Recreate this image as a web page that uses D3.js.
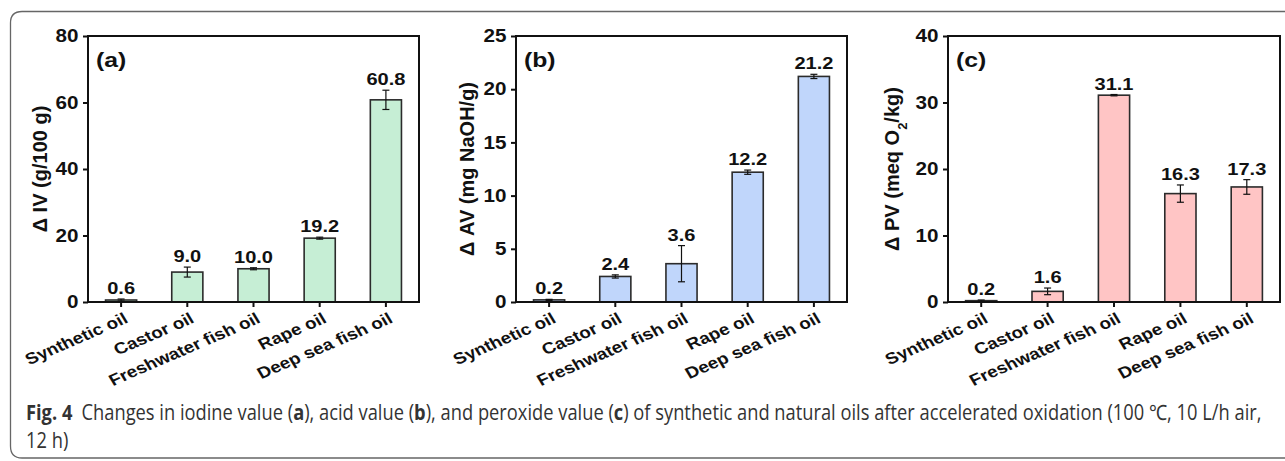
<!DOCTYPE html>
<html>
<head>
<meta charset="utf-8">
<script src="https://cdn.jsdelivr.net/npm/d3@7"></script>
<style>
  body { margin: 0; background: #fff; }
  svg text { font-family: "Liberation Sans", Arial, sans-serif; font-weight: bold; fill: #111; }
  svg .caption text { font-family: "Open Sans", "Noto Sans", sans-serif; font-weight: normal; fill: #333; }
</style>
</head>
<body>
<svg id="fig" width="1285" height="461"></svg>
<script>
// data
var oils = ['Synthetic oil', 'Castor oil', 'Freshwater fish oil', 'Rape oil', 'Deep sea fish oil'];

var ivValues = [0.6, 9.0, 10.0, 19.2, 60.8];
var ivErrors = [0.3, 1.5, 0.3, 0.3, 2.9];
var ivTicks = [0, 20, 40, 60, 80];

var avValues = [0.2, 2.4, 3.6, 12.2, 21.2];
var avErrors = [0.05, 0.15, 1.7, 0.2, 0.2];
var avTicks = [0, 5, 10, 15, 20, 25];

var pvValues = [0.2, 1.6, 31.1, 16.3, 17.3];
var pvErrors = [0.1, 0.5, 0.1, 1.3, 1.1];
var pvTicks = [0, 10, 20, 30, 40];

var svg = d3.select('#fig');
var sx = 1.18; // the original figure looks a bit stretched sideways

var panels = [
    { tag: '(a)', values: ivValues, errors: ivErrors, ticks: ivTicks, fill: '#c6eed5',
      left: 88, right: 419, titleX: 40, title: ['Δ IV (g/100 g)'] },
    { tag: '(b)', values: avValues, errors: avErrors, ticks: avTicks, fill: '#c0d6fb',
      left: 516, right: 847, titleX: 467, title: ['Δ AV (mg NaOH/g)'] },
    { tag: '(c)', values: pvValues, errors: pvErrors, ticks: pvTicks, fill: '#ffc5c5',
      left: 948, right: 1280, titleX: 892, title: ['Δ PV (meq O', '2', '/kg)'] }
];
var plotTop = 36, plotBottom = 302;

// outer rounded border of the figure box
svg.append('path')
    .attr('d', 'M1300,11.5 H22 Q10.5,11.5 10.5,23 V446 Q10.5,458 22,458 H1300')
    .attr('fill', 'none')
    .attr('stroke', '#666')
    .attr('stroke-width', 1.3);

panels.forEach(function (p) {
    var x = d3.scaleBand().domain(oils).range([p.left, p.right])
        .paddingInner(0.53).paddingOuter(0.265);
    var y = d3.scaleLinear().domain([0, d3.max(p.ticks)]).range([plotBottom, plotTop]);
    var g = svg.append('g');
    var rows = oils.map(function (o, i) { return { name: o, v: p.values[i], e: p.errors[i] }; });
    var cx = d => x(d.name) + x.bandwidth() / 2;

    g.selectAll('rect.bar')
        .data(rows)
        .join('rect')
        .attr('class', 'bar')
        .attr('x', d => x(d.name))
        .attr('y', d => y(d.v))
        .attr('width', x.bandwidth())
        .attr('height', d => plotBottom - y(d.v))
        .attr('fill', p.fill)
        .attr('stroke', '#2b2b2b')
        .attr('stroke-width', 1.6);

    // error bars
    var eb = g.selectAll('g.err').data(rows).join('g').attr('class', 'err')
        .attr('stroke', '#111').attr('stroke-width', 1.2);
    eb.append('line')
        .attr('x1', cx).attr('x2', cx)
        .attr('y1', d => y(d.v - d.e)).attr('y2', d => y(d.v + d.e));
    eb.append('line')
        .attr('x1', d => cx(d) - 3.5).attr('x2', d => cx(d) + 3.5)
        .attr('y1', d => y(d.v + d.e)).attr('y2', d => y(d.v + d.e));
    eb.append('line')
        .attr('x1', d => cx(d) - 3.5).attr('x2', d => cx(d) + 3.5)
        .attr('y1', d => y(d.v - d.e)).attr('y2', d => y(d.v - d.e));

    // value labels
    g.selectAll('text.val')
        .data(rows)
        .join('text')
        .attr('class', 'val')
        .attr('text-anchor', 'middle')
        .attr('font-size', 17)
        .attr('transform', d => 'translate(' + cx(d) + ',' + (y(d.v + d.e) - 5) + ') scale(' + sx + ',1)')
        .text(d => d.v.toFixed(1));

    // frame
    g.append('rect')
        .attr('x', p.left).attr('y', plotTop)
        .attr('width', p.right - p.left).attr('height', plotBottom - plotTop)
        .attr('fill', 'none').attr('stroke', '#111').attr('stroke-width', 2);

    var yAxis = g.append('g')
        .attr('transform', 'translate(' + p.left + ',0)')
        .call(d3.axisLeft(y).tickValues(p.ticks).tickSize(5).tickPadding(3));
    yAxis.select('.domain').remove();
    yAxis.selectAll('line').attr('stroke', '#111').attr('stroke-width', 2);
    yAxis.selectAll('text')
        .attr('font-size', 17.5)
        .attr('transform', 'scale(' + sx + ',1)');
    yAxis.attr('font-family', null).attr('font-size', null);

    var xAxis = g.append('g')
        .attr('transform', 'translate(0,' + plotBottom + ')')
        .call(d3.axisBottom(x).tickSize(5).tickFormat(''));
    xAxis.select('.domain').remove();
    xAxis.selectAll('line').attr('stroke', '#111').attr('stroke-width', 2);

    g.selectAll('text.cat')
        .data(oils)
        .join('text')
        .attr('class', 'cat')
        .attr('text-anchor', 'end')
        .attr('font-size', 16)
        .attr('transform', d => 'translate(' + (x(d) + x.bandwidth() / 2 + 8) + ',' + (plotBottom + 20) + ') scale(' + sx + ',1) rotate(-27)')
        .text(d => d);

    // panel tag
    g.append('text')
        .attr('font-size', 21)
        .attr('transform', 'translate(' + (p.left + 8) + ',' + (plotTop + 31) + ') scale(' + sx + ',1)')
        .text(p.tag);

    // y title
    var t = g.append('text')
        .attr('text-anchor', 'middle')
        .attr('font-size', 20)
        .attr('transform', 'translate(' + p.titleX + ',' + ((plotTop + plotBottom) / 2) + ') rotate(-90)');
    t.append('tspan').attr('dy', '0.35em').text(p.title[0]);
    if (p.title.length > 1) {
        t.append('tspan').attr('font-size', 13).attr('baseline-shift', 'sub').text(p.title[1]);
        t.append('tspan').text(p.title[2]);
    }
});

// caption
var cap = svg.append('g').attr('class', 'caption');
var line1 = cap.append('text').attr('x', 0).attr('y', 0).attr('font-size', 21);
line1.append('tspan').style('font-weight', 'bold').text('Fig. 4');
line1.append('tspan').text('\u2002Changes in iodine value (');
line1.append('tspan').style('font-weight', 'bold').text('a');
line1.append('tspan').text('), acid value (');
line1.append('tspan').style('font-weight', 'bold').text('b');
line1.append('tspan').text('), and peroxide value (');
line1.append('tspan').style('font-weight', 'bold').text('c');
line1.append('tspan').text(') of synthetic and natural oils after accelerated oxidation (100 \u2103, 10 L/h air,');
var line2 = cap.append('text').attr('x', 0).attr('y', 28).attr('font-size', 21).text('12 h)');
var natural = line1.node().getComputedTextLength();
var k = (1262 - 26) / natural;
line1.attr('transform', 'translate(26,420) scale(' + k + ',1)');
line2.attr('transform', 'translate(26,420) scale(' + k + ',1)');
</script>
</body>
</html>
